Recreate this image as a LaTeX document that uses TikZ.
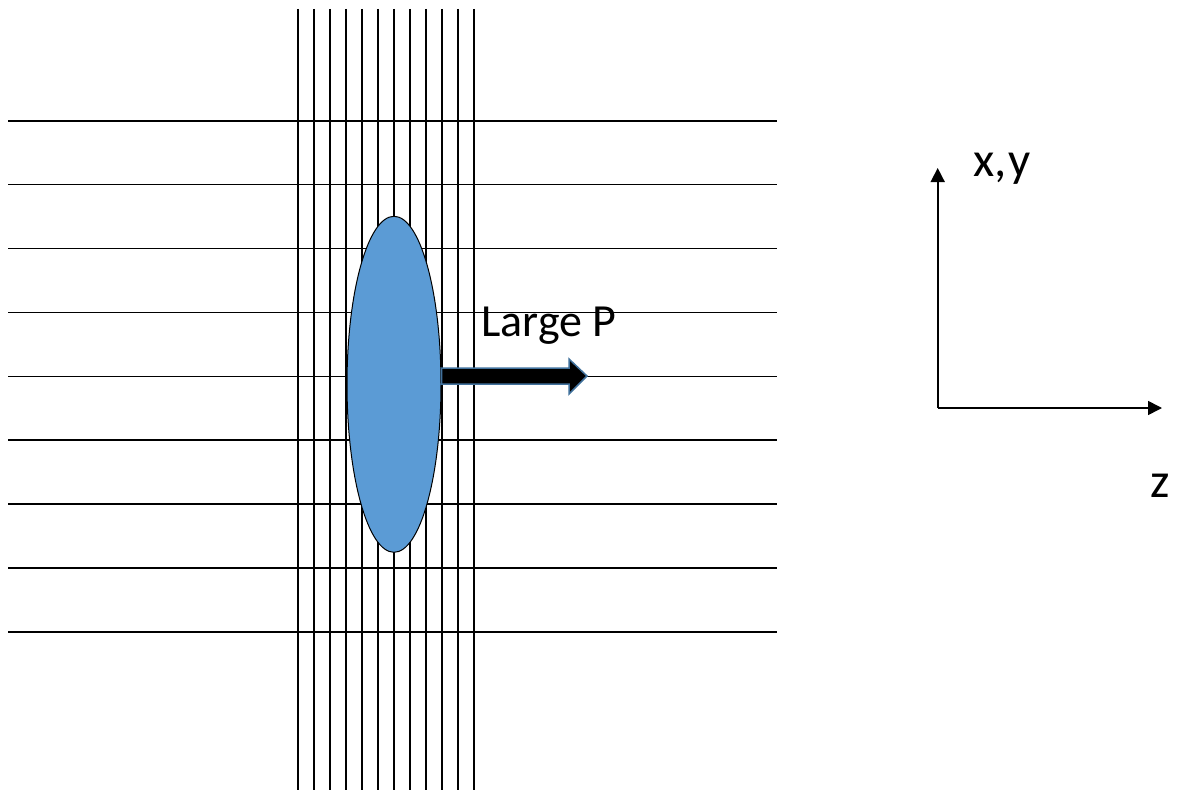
\documentclass[tikz,border=0pt]{standalone}
\usepackage{fontspec}
\setmainfont{Carlito}
\usetikzlibrary{arrows.meta,shapes.geometric}
\definecolor{blob}{HTML}{5B9BD5}
\definecolor{arrowedge}{HTML}{41719C}
\tikzset{
  gridline/.style={line width=1.6pt,black},
  axis/.style={line width=1.6pt,-{Triangle[length=14pt,width=14pt]}},
  lbl/.style={font=\fontsize{46}{52}\selectfont,inner sep=0pt,anchor=base west},
  axlbl/.style={font=\fontsize{49}{54}\selectfont,inner sep=0pt,anchor=base west},
}
\begin{document}
\begin{tikzpicture}[x=1pt,y=-1pt]
\useasboundingbox (0,0) rectangle (1179,792);
% horizontal lines
\foreach \i in {0,...,8}{
  \draw[gridline] (8,{120.7+63.9*\i}) -- (777,{120.7+63.9*\i});
}
% vertical lines
\foreach \i in {0,...,11}{
  \draw[gridline] ({297.7+16*\i},9) -- ({297.7+16*\i},790);
}
% ellipse
\node[ellipse,draw=black,line width=1pt,fill=blob,minimum width=94pt,minimum height=336pt,inner sep=0pt] (blob) at (394,384.3) {};
% block arrow
\draw[fill=black,draw=arrowedge,line width=1.5pt,line join=miter]
  (441.5,368) -- (569,368) -- (569,359) -- (587,376) -- (569,394) -- (569,384) -- (441.5,384) -- cycle;
\node[lbl] (P) at (481,336.7) {Large P};
% axes
\coordinate (o) at (937.7,408);
\coordinate (ytip) at (937.7,168);
\coordinate (ztip) at (1162,408);
\draw[axis] (o) -- (ytip);
\draw[axis] (o) -- (ztip);
\node[axlbl] (xy) at (973,176.5) {x,\kern2pt y};
\node[axlbl] (z) at (1150,497.5) {z};
\end{tikzpicture}
\end{document}
